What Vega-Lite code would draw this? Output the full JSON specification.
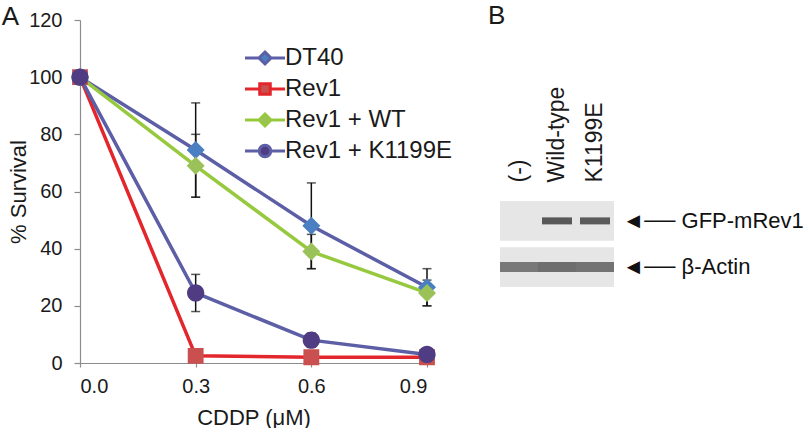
{
  "$schema": "https://vega.github.io/schema/vega-lite/v6.json",
  "background": "white",
  "padding": {"left": 1, "top": 3, "right": 0, "bottom": 0},
  "bounds": "flush",
  "spacing": 73,
  "config": {
    "font": "Liberation Sans",
    "view": {"stroke": null},
    "axis": {
      "grid": false,
      "labelFont": "Liberation Sans",
      "labelFontSize": 20,
      "labelColor": "#1a1a1a",
      "titleFont": "Liberation Sans",
      "titleFontSize": 22,
      "titleFontWeight": "normal",
      "titleColor": "#1a1a1a",
      "domainColor": "#8c8c8c",
      "tickColor": "#8c8c8c",
      "domainWidth": 1.2,
      "tickWidth": 1.2,
      "labelLimit": 0
    },
    "legend": {
      "orient": "none",
      "legendX": 173,
      "legendY": 26,
      "padding": 0,
      "labelFont": "Liberation Sans",
      "labelFontSize": 24,
      "labelColor": "#1a1a1a",
      "labelLimit": 0,
      "rowPadding": 7,
      "symbolSize": 256,
      "symbolStrokeWidth": 3,
      "labelOffset": 8,
      "title": null
    },
    "title": {"font": "Liberation Sans", "fontWeight": "normal", "fontSize": 26, "color": "#1a1a1a"}
  },
  "datasets": {
    "survival": [
      {"series": "DT40", "cddp": 0.0, "survival": 100},
      {"series": "DT40", "cddp": 0.3, "survival": 74.5, "lo": 58, "hi": 91},
      {"series": "DT40", "cddp": 0.6, "survival": 48, "lo": 33, "hi": 63},
      {"series": "DT40", "cddp": 0.9, "survival": 26.5, "lo": 20, "hi": 33},
      {"series": "Rev1", "cddp": 0.0, "survival": 100},
      {"series": "Rev1", "cddp": 0.3, "survival": 2.5},
      {"series": "Rev1", "cddp": 0.6, "survival": 2},
      {"series": "Rev1", "cddp": 0.9, "survival": 2},
      {"series": "Rev1 + WT", "cddp": 0.0, "survival": 100},
      {"series": "Rev1 + WT", "cddp": 0.3, "survival": 69, "lo": 58, "hi": 80},
      {"series": "Rev1 + WT", "cddp": 0.6, "survival": 39, "lo": 33, "hi": 45},
      {"series": "Rev1 + WT", "cddp": 0.9, "survival": 24.5, "lo": 20, "hi": 29},
      {"series": "Rev1 + K1199E", "cddp": 0.0, "survival": 100},
      {"series": "Rev1 + K1199E", "cddp": 0.3, "survival": 24.5, "lo": 18, "hi": 31},
      {"series": "Rev1 + K1199E", "cddp": 0.6, "survival": 8, "lo": 5.5, "hi": 10.5},
      {"series": "Rev1 + K1199E", "cddp": 0.9, "survival": 3}
    ],
    "blot": [
      {"lane": "(-)", "protein": "GFP-mRev1", "signal": 0},
      {"lane": "Wild-type", "protein": "GFP-mRev1", "signal": 0.95},
      {"lane": "K1199E", "protein": "GFP-mRev1", "signal": 0.92},
      {"lane": "(-)", "protein": "β-Actin", "signal": 0.7},
      {"lane": "Wild-type", "protein": "β-Actin", "signal": 0.78},
      {"lane": "K1199E", "protein": "β-Actin", "signal": 0.74}
    ]
  },
  "hconcat": [
    {
      "width": 347,
      "height": 343,
      "title": {"text": "A", "anchor": "start", "frame": "bounds", "offset": -20, "dx": -6},
      "data": {"name": "survival"},
      "encoding": {
        "x": {
          "field": "cddp",
          "type": "quantitative",
          "scale": {"domain": [0, 0.9], "nice": false, "zero": false},
          "axis": {"values": [0, 0.3, 0.6, 0.9], "format": ".1f", "tickSize": 4, "labelPadding": 9, "title": "CDDP (μM)", "titlePadding": 11}
        }
      },
      "layer": [
        {
          "mark": {"type": "line", "strokeWidth": 3.5},
          "encoding": {
            "y": {
              "field": "survival",
              "type": "quantitative",
              "scale": {"domain": [0, 120], "nice": false},
              "axis": {"values": [0, 20, 40, 60, 80, 100, 120], "tickSize": 6, "labelPadding": 12, "title": "% Survival", "titlePadding": -2}
            },
            "stroke": {
              "field": "series",
              "type": "nominal",
              "scale": {"domain": ["DT40", "Rev1", "Rev1 + WT", "Rev1 + K1199E"], "range": ["#5c5ea6", "#e3262b", "#97c93f", "#5c5ea6"]}
            }
          }
        },
        {
          "transform": [{"filter": "isValid(datum.hi)"}],
          "mark": {"type": "rule", "color": "#111111", "strokeWidth": 1.5},
          "encoding": {
            "y": {"field": "lo", "type": "quantitative"},
            "y2": {"field": "hi"}
          }
        },
        {
          "transform": [{"filter": "isValid(datum.hi)"}],
          "mark": {"type": "tick", "orient": "horizontal", "color": "#111111", "thickness": 1.5, "size": 9},
          "encoding": {"y": {"field": "lo", "type": "quantitative"}}
        },
        {
          "transform": [{"filter": "isValid(datum.hi)"}],
          "mark": {"type": "tick", "orient": "horizontal", "color": "#111111", "thickness": 1.5, "size": 9},
          "encoding": {"y": {"field": "hi", "type": "quantitative"}}
        },
        {
          "mark": {"type": "point", "filled": true, "opacity": 1, "size": 576},
          "encoding": {
            "y": {"field": "survival", "type": "quantitative"},
            "fill": {
              "field": "series",
              "type": "nominal",
              "scale": {"domain": ["DT40", "Rev1", "Rev1 + WT", "Rev1 + K1199E"], "range": ["#4a7fc2", "#c9504e", "#9bc258", "#4f3c82"]}
            },
            "shape": {
              "field": "series",
              "type": "nominal",
              "scale": {
                "domain": ["DT40", "Rev1", "Rev1 + WT", "Rev1 + K1199E"],
                "range": [
                  "M-2.5,0H-0.75M0.75,0H2.5M0,-0.75L0.75,0L0,0.75L-0.75,0Z",
                  "M-2.5,0H-0.66M0.66,0H2.5M-0.66,-0.66H0.66V0.66H-0.66Z",
                  "M-2.5,0H-0.75M0.75,0H2.5M0,-0.75L0.75,0L0,0.75L-0.75,0Z",
                  "M-2.5,0H-0.72M0.72,0H2.5M-0.72,0A0.72,0.72 0 1,0 0.72,0A0.72,0.72 0 1,0 -0.72,0Z"
                ]
              }
            }
          }
        }
      ]
    },
    {
      "width": 114,
      "height": 343,
      "title": {"text": "B", "anchor": "start", "frame": "bounds", "offset": -9, "dx": -12},
      "data": {"name": "blot"},
      "encoding": {
        "x": {
          "field": "lane",
          "type": "nominal",
          "sort": ["(-)", "Wild-type", "K1199E"],
          "scale": {"paddingInner": 0, "paddingOuter": 0},
          "axis": {"orient": "top", "labelAngle": -90, "offset": -162, "ticks": false, "domain": false, "labelPadding": 0, "title": null, "labelFontSize": 23}
        },
        "y": {
          "field": "protein",
          "type": "nominal",
          "sort": ["GFP-mRev1", "β-Actin"],
          "scale": {"range": [181, 267], "paddingInner": 0.14, "paddingOuter": 0},
          "axis": {"orient": "right", "ticks": false, "domain": false, "labelPadding": 8, "title": null, "labelFontSize": 22, "labelColor": "#111111", "labelExpr": "'◄──  ' + datum.label"}
        }
      },
      "layer": [
        {"mark": {"type": "rect", "color": "#e6e6e6"}},
        {
          "transform": [{"filter": "datum.protein === 'GFP-mRev1'"}],
          "mark": {"type": "tick", "orient": "horizontal", "thickness": 7, "size": 30},
          "encoding": {"color": {"field": "signal", "type": "quantitative", "scale": {"domain": [0, 1], "range": ["#e6e6e6", "#121212"]}, "legend": null}}
        },
        {
          "transform": [{"filter": "datum.protein === 'β-Actin'"}],
          "mark": {"type": "tick", "orient": "horizontal", "thickness": 10, "size": 38},
          "encoding": {"color": {"field": "signal", "type": "quantitative", "scale": {"domain": [0, 1], "range": ["#e6e6e6", "#121212"]}, "legend": null}}
        }
      ]
    }
  ]
}
